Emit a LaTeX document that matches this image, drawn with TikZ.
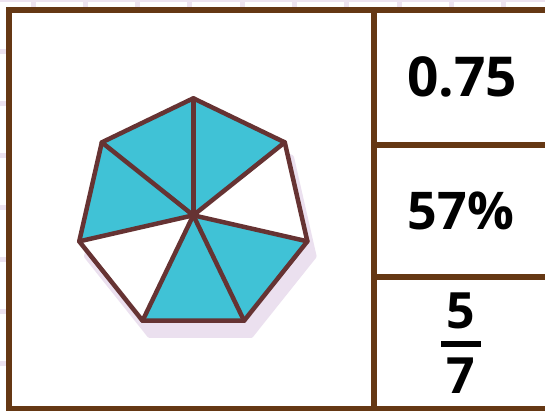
\documentclass[tikz,border=0pt]{standalone}
\usepackage{fontspec}
\setmainfont{Open Sans}
\usetikzlibrary{calc}
\definecolor{gridc}{HTML}{EDE3F0}
\definecolor{framec}{HTML}{653814}
\definecolor{heptc}{HTML}{663333}
\definecolor{fillc}{HTML}{40C2D6}
\definecolor{shadc}{HTML}{EBE0EF}
\begin{document}
\begin{tikzpicture}[x=1pt,y=-1pt,
  gridline/.style={gridc,line width=5},
  framestroke/.style={framec,line width=6},
  heptline/.style={heptc,line width=4.5,line join=round,line cap=round},
  bigtext/.style={font=\bfseries\fontsize{55}{60}\selectfont,inner sep=0pt},
  pcttext/.style={font=\bfseries\fontsize{52}{58}\selectfont,inner sep=0pt},
  fractext/.style={font=\bfseries\fontsize{50}{55}\selectfont,inner sep=0pt}]
\useasboundingbox (0,0) rectangle (545,410);
\fill[white] (0,0) rectangle (545,410);
% background grid
\foreach \i in {0,...,9} \draw[gridline] ({33+52.3*\i},0) -- ++(0,410);
\foreach \j in {0,...,7} \draw[gridline] (0,{-1+52*\j}) -- ++(545,0);
% frame
\fill[white] (9,10) rectangle (560,408.5);
\coordinate (ftl) at (9,10);
\coordinate (fbr) at (560,408.5);
\coordinate (dvt) at (374,10);
\coordinate (dvb) at (374,408.5);
\coordinate (h1l) at (374,144.5);
\coordinate (h1r) at (560,144.5);
\coordinate (h2l) at (374,277);
\coordinate (h2r) at (560,277);
\draw[framestroke] (ftl) rectangle (fbr);
\draw[framestroke] (dvt) -- (dvb);
\draw[framestroke] (h1l) -- (h1r);
\draw[framestroke] (h2l) -- (h2r);
% heptagon shadow
\begin{scope}[shift={(200.3,230.3)}]
  \filldraw[shadc,line width=4.5,line join=round] (-90:117) \foreach \k in {1,...,6} { -- ({-90+51.4286*\k}:117) } -- cycle;
\end{scope}
% heptagon vertices
\coordinate (c) at (193.3,215.3);
\foreach \k in {0,...,6} \coordinate (v\k) at ($(c)+({-90+51.4286*\k}:117)$);
% filled sectors
\fill[fillc] (c) -- (v0) -- (v1) -- cycle;
\fill[white] (c) -- (v1) -- (v2) -- cycle;
\fill[fillc] (c) -- (v2) -- (v3) -- cycle;
\fill[fillc] (c) -- (v3) -- (v4) -- cycle;
\fill[white] (c) -- (v4) -- (v5) -- cycle;
\fill[fillc] (c) -- (v5) -- (v6) -- cycle;
\fill[fillc] (c) -- (v6) -- (v0) -- cycle;
\foreach \k in {0,...,6} \draw[heptline] (c) -- (v\k);
\draw[heptline] (v0) -- (v1) -- (v2) -- (v3) -- (v4) -- (v5) -- (v6) -- cycle;
% texts
\node[bigtext] (dec) at (462,77) {0.75};
\node[pcttext] (pct) at (461,211) {57\%};
\node[fractext] (num) at (461,310.5) {5};
\node[fractext] (den) at (461,376) {7};
\coordinate (barl) at (441,344);
\coordinate (barr) at (481,344);
\draw[line width=6] (barl) -- (barr);
\end{tikzpicture}
\end{document}
